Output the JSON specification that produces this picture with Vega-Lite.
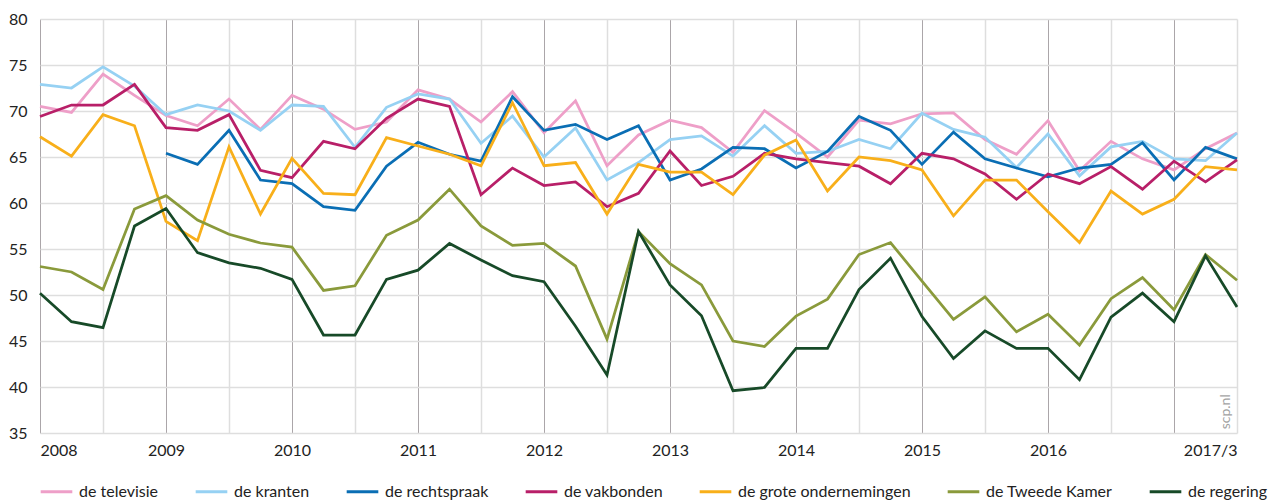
{
  "$schema": "https://vega.github.io/schema/vega-lite/v6.json",
  "width": 1197,
  "height": 414,
  "autosize": {"type": "none"},
  "padding": {"left": 40, "top": 19, "right": 39, "bottom": 68},
  "background": "white",
  "config": {"font": "Lato", "view": {"stroke": null}},
  "layer": [
    {
      "data": {
        "values": [
          {"t": 2008.00, "de televisie": 70.5, "de kranten": 72.9, "de rechtspraak": null, "de vakbonden": 69.4, "de grote ondernemingen": 67.2, "de Tweede Kamer": 53.1, "de regering": 50.2},
          {"t": 2008.25, "de televisie": 69.85, "de kranten": 72.5, "de rechtspraak": null, "de vakbonden": 70.65, "de grote ondernemingen": 65.1, "de Tweede Kamer": 52.5, "de regering": 47.1},
          {"t": 2008.50, "de televisie": 74.0, "de kranten": 74.8, "de rechtspraak": null, "de vakbonden": 70.65, "de grote ondernemingen": 69.6, "de Tweede Kamer": 50.6, "de regering": 46.45},
          {"t": 2008.75, "de televisie": 71.7, "de kranten": 72.7, "de rechtspraak": null, "de vakbonden": 72.9, "de grote ondernemingen": 68.4, "de Tweede Kamer": 59.35, "de regering": 57.5},
          {"t": 2009.00, "de televisie": 69.5, "de kranten": 69.6, "de rechtspraak": 65.4, "de vakbonden": 68.2, "de grote ondernemingen": 58.0, "de Tweede Kamer": 60.8, "de regering": 59.4},
          {"t": 2009.25, "de televisie": 68.4, "de kranten": 70.65, "de rechtspraak": 64.2, "de vakbonden": 67.9, "de grote ondernemingen": 55.9, "de Tweede Kamer": 58.15, "de regering": 54.6},
          {"t": 2009.50, "de televisie": 71.3, "de kranten": 70.0, "de rechtspraak": 67.9, "de vakbonden": 69.6, "de grote ondernemingen": 66.1, "de Tweede Kamer": 56.6, "de regering": 53.5},
          {"t": 2009.75, "de televisie": 68.0, "de kranten": 67.9, "de rechtspraak": 62.5, "de vakbonden": 63.55, "de grote ondernemingen": 58.8, "de Tweede Kamer": 55.65, "de regering": 52.9},
          {"t": 2010.00, "de televisie": 71.7, "de kranten": 70.65, "de rechtspraak": 62.1, "de vakbonden": 62.75, "de grote ondernemingen": 64.85, "de Tweede Kamer": 55.2, "de regering": 51.7},
          {"t": 2010.25, "de televisie": 70.2, "de kranten": 70.5, "de rechtspraak": 59.6, "de vakbonden": 66.7, "de grote ondernemingen": 61.05, "de Tweede Kamer": 50.5, "de regering": 45.65},
          {"t": 2010.50, "de televisie": 68.0, "de kranten": 66.05, "de rechtspraak": 59.2, "de vakbonden": 65.9, "de grote ondernemingen": 60.9, "de Tweede Kamer": 51.0, "de regering": 45.65},
          {"t": 2010.75, "de televisie": 68.8, "de kranten": 70.4, "de rechtspraak": 64.0, "de vakbonden": 69.2, "de grote ondernemingen": 67.1, "de Tweede Kamer": 56.5, "de regering": 51.7},
          {"t": 2011.00, "de televisie": 72.3, "de kranten": 71.85, "de rechtspraak": 66.6, "de vakbonden": 71.3, "de grote ondernemingen": 66.2, "de Tweede Kamer": 58.15, "de regering": 52.7},
          {"t": 2011.25, "de televisie": 71.3, "de kranten": 71.3, "de rechtspraak": 65.3, "de vakbonden": 70.5, "de grote ondernemingen": 65.3, "de Tweede Kamer": 61.5, "de regering": 55.6},
          {"t": 2011.50, "de televisie": 68.8, "de kranten": 66.5, "de rechtspraak": 64.55, "de vakbonden": 60.9, "de grote ondernemingen": 64.05, "de Tweede Kamer": 57.5, "de regering": 53.8},
          {"t": 2011.75, "de televisie": 72.1, "de kranten": 69.45, "de rechtspraak": 71.55, "de vakbonden": 63.8, "de grote ondernemingen": 70.9, "de Tweede Kamer": 55.4, "de regering": 52.1},
          {"t": 2012.00, "de televisie": 67.65, "de kranten": 65.0, "de rechtspraak": 67.9, "de vakbonden": 61.9, "de grote ondernemingen": 64.05, "de Tweede Kamer": 55.6, "de regering": 51.45},
          {"t": 2012.25, "de televisie": 71.1, "de kranten": 68.15, "de rechtspraak": 68.55, "de vakbonden": 62.3, "de grote ondernemingen": 64.4, "de Tweede Kamer": 53.15, "de regering": 46.6},
          {"t": 2012.50, "de televisie": 64.05, "de kranten": 62.5, "de rechtspraak": 66.9, "de vakbonden": 59.6, "de grote ondernemingen": 58.8, "de Tweede Kamer": 45.2, "de regering": 41.3},
          {"t": 2012.75, "de televisie": 67.4, "de kranten": 64.4, "de rechtspraak": 68.4, "de vakbonden": 61.05, "de grote ondernemingen": 64.2, "de Tweede Kamer": 56.9, "de regering": 56.9},
          {"t": 2013.00, "de televisie": 69.0, "de kranten": 66.9, "de rechtspraak": 62.5, "de vakbonden": 65.65, "de grote ondernemingen": 63.35, "de Tweede Kamer": 53.4, "de regering": 51.1},
          {"t": 2013.25, "de televisie": 68.2, "de kranten": 67.3, "de rechtspraak": 63.7, "de vakbonden": 61.9, "de grote ondernemingen": 63.35, "de Tweede Kamer": 51.1, "de regering": 47.75},
          {"t": 2013.50, "de televisie": 65.5, "de kranten": 65.1, "de rechtspraak": 66.05, "de vakbonden": 62.9, "de grote ondernemingen": 60.9, "de Tweede Kamer": 45.0, "de regering": 39.6},
          {"t": 2013.75, "de televisie": 70.05, "de kranten": 68.4, "de rechtspraak": 65.9, "de vakbonden": 65.4, "de grote ondernemingen": 65.2, "de Tweede Kamer": 44.4, "de regering": 39.95},
          {"t": 2014.00, "de televisie": 67.6, "de kranten": 65.4, "de rechtspraak": 63.8, "de vakbonden": 64.8, "de grote ondernemingen": 66.85, "de Tweede Kamer": 47.7, "de regering": 44.2},
          {"t": 2014.25, "de televisie": 65.0, "de kranten": 65.6, "de rechtspraak": 65.6, "de vakbonden": 64.4, "de grote ondernemingen": 61.3, "de Tweede Kamer": 49.55, "de regering": 44.2},
          {"t": 2014.50, "de televisie": 69.0, "de kranten": 66.9, "de rechtspraak": 69.4, "de vakbonden": 64.0, "de grote ondernemingen": 65.0, "de Tweede Kamer": 54.4, "de regering": 50.6},
          {"t": 2014.75, "de televisie": 68.6, "de kranten": 65.9, "de rechtspraak": 67.9, "de vakbonden": 62.1, "de grote ondernemingen": 64.6, "de Tweede Kamer": 55.7, "de regering": 54.0},
          {"t": 2015.00, "de televisie": 69.7, "de kranten": 69.75, "de rechtspraak": 64.2, "de vakbonden": 65.4, "de grote ondernemingen": 63.6, "de Tweede Kamer": 51.5, "de regering": 47.65},
          {"t": 2015.25, "de televisie": 69.8, "de kranten": 68.0, "de rechtspraak": 67.7, "de vakbonden": 64.8, "de grote ondernemingen": 58.6, "de Tweede Kamer": 47.35, "de regering": 43.1},
          {"t": 2015.50, "de televisie": 66.9, "de kranten": 67.15, "de rechtspraak": 64.8, "de vakbonden": 63.15, "de grote ondernemingen": 62.5, "de Tweede Kamer": 49.8, "de regering": 46.1},
          {"t": 2015.75, "de televisie": 65.3, "de kranten": 63.85, "de rechtspraak": 63.8, "de vakbonden": 60.4, "de grote ondernemingen": 62.5, "de Tweede Kamer": 46.0, "de regering": 44.2},
          {"t": 2016.00, "de televisie": 68.95, "de kranten": 67.5, "de rechtspraak": 62.85, "de vakbonden": 63.15, "de grote ondernemingen": 59.05, "de Tweede Kamer": 47.9, "de regering": 44.2},
          {"t": 2016.25, "de televisie": 63.5, "de kranten": 62.95, "de rechtspraak": 63.8, "de vakbonden": 62.1, "de grote ondernemingen": 55.7, "de Tweede Kamer": 44.55, "de regering": 40.8},
          {"t": 2016.50, "de televisie": 66.7, "de kranten": 66.1, "de rechtspraak": 64.2, "de vakbonden": 63.95, "de grote ondernemingen": 61.3, "de Tweede Kamer": 49.6, "de regering": 47.6},
          {"t": 2016.75, "de televisie": 64.8, "de kranten": 66.7, "de rechtspraak": 66.55, "de vakbonden": 61.5, "de grote ondernemingen": 58.8, "de Tweede Kamer": 51.9, "de regering": 50.2},
          {"t": 2017.00, "de televisie": 63.6, "de kranten": 64.8, "de rechtspraak": 62.5, "de vakbonden": 64.55, "de grote ondernemingen": 60.4, "de Tweede Kamer": 48.4, "de regering": 47.1},
          {"t": 2017.25, "de televisie": 65.9, "de kranten": 64.6, "de rechtspraak": 66.05, "de vakbonden": 62.3, "de grote ondernemingen": 63.95, "de Tweede Kamer": 54.4, "de regering": 54.25},
          {"t": 2017.50, "de televisie": 67.6, "de kranten": 67.6, "de rechtspraak": 64.8, "de vakbonden": 64.7, "de grote ondernemingen": 63.6, "de Tweede Kamer": 51.6, "de regering": 48.7}
        ]
      },
      "transform": [
        {"fold": ["de televisie", "de kranten", "de rechtspraak", "de vakbonden", "de grote ondernemingen", "de Tweede Kamer", "de regering"], "as": ["reeks", "waarde"]}
      ],
      "mark": {"type": "line", "strokeWidth": 2.75},
      "encoding": {
        "x": {
          "field": "t",
          "type": "quantitative",
          "title": null,
          "scale": {"domain": [2008, 2017.5], "nice": false, "zero": false},
          "axis": {
            "values": [2008, 2008.25, 2008.5, 2008.75, 2009, 2009.25, 2009.5, 2009.75, 2010, 2010.25, 2010.5, 2010.75, 2011, 2011.25, 2011.5, 2011.75, 2012, 2012.25, 2012.5, 2012.75, 2013, 2013.25, 2013.5, 2013.75, 2014, 2014.25, 2014.5, 2014.75, 2015, 2015.25, 2015.5, 2015.75, 2016, 2016.25, 2016.5, 2016.75, 2017, 2017.25, 2017.5],
            "labelExpr": "datum.value > 2017.4 ? '2017/3' : ((datum.value % 1 == 0 && datum.value < 2017) ? format(datum.value, 'd') : '')",
            "labelFlush": true,
            "labelOverlap": false,
            "labelBound": false,
            "labelFont": "Lato",
            "labelFontSize": 16,
            "labelColor": "#222222",
            "labelPadding": 9,
            "ticks": false,
            "domain": false,
            "grid": true,
            "gridColor": {"condition": {"test": "datum.value % 1 == 0", "value": "#ABA6A9"}, "value": "#DEDEDE"},
            "gridWidth": {"condition": {"test": "datum.value % 1 == 0", "value": 1}, "value": 1.5},
            "zindex": 0
          }
        },
        "y": {
          "field": "waarde",
          "type": "quantitative",
          "title": null,
          "scale": {"domain": [35, 80], "nice": false, "zero": false},
          "axis": {
            "values": [35, 40, 45, 50, 55, 60, 65, 70, 75, 80],
            "labelFont": "Lato",
            "labelFontSize": 16,
            "labelColor": "#222222",
            "labelPadding": 13,
            "labelFlush": false,
            "ticks": false,
            "domain": false,
            "grid": true,
            "gridColor": "#DEDEDE",
            "gridWidth": 1.5,
            "zindex": 0
          }
        },
        "color": {
          "field": "reeks",
          "type": "nominal",
          "scale": {
            "domain": ["de televisie", "de kranten", "de rechtspraak", "de vakbonden", "de grote ondernemingen", "de Tweede Kamer", "de regering"],
            "range": ["#EE9FC8", "#96D1F3", "#0A6EB4", "#B81F68", "#F8AF1A", "#8A9A3B", "#174A28"]
          },
          "legend": {
            "title": null,
            "orient": "none",
            "legendX": -1,
            "legendY": 455,
            "direction": "horizontal",
            "columns": 7,
            "symbolType": "stroke",
            "symbolSize": 1000,
            "symbolStrokeWidth": 3,
            "labelFont": "Lato",
            "labelFontSize": 16,
            "labelColor": "#222222",
            "labelOffset": 5,
            "labelLimit": 300,
            "columnPadding": 30
          }
        }
      }
    },
    {
      "data": {"values": [{"t": 2017.41, "waarde": 35.4, "tekst": "scp.nl"}]},
      "mark": {"type": "text", "angle": 270, "align": "left", "baseline": "middle", "color": "#A3A3A3", "fontSize": 14, "font": "Lato"},
      "encoding": {
        "x": {"field": "t", "type": "quantitative", "title": null},
        "y": {"field": "waarde", "type": "quantitative", "title": null},
        "text": {"field": "tekst"}
      }
    }
  ]
}
